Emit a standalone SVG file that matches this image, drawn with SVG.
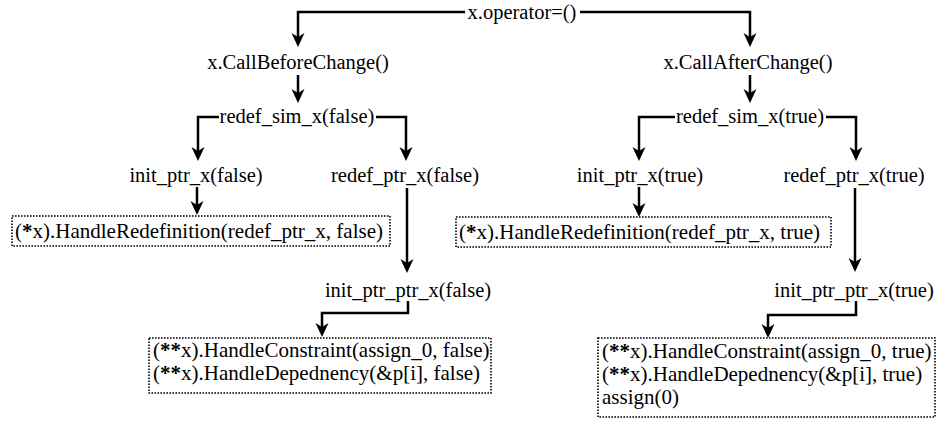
<svg xmlns="http://www.w3.org/2000/svg" width="938" height="421" viewBox="0 0 938 421">
<style>
  text { font-family: "Liberation Serif", "Times New Roman", serif; font-size: 20.5px; fill: #000; }
  .c { text-anchor: middle; }
  .t { font-size: 21px; }
  .b { font-weight: bold; }
  .conn { fill: none; stroke: #000; stroke-width: 2.5; }
  .box { fill: #fff; stroke: #000; stroke-width: 1.6; stroke-dasharray: 1.6 1.4; }
</style>
<defs>
  <marker id="ah" viewBox="-8 -7 17 14" refX="0" refY="0" markerWidth="17" markerHeight="14" markerUnits="userSpaceOnUse" orient="auto">
    <path d="M8,0 L-6,-6.5 L-2,0 L-6,6.5 Z" fill="#000"/>
  </marker>
</defs>
<rect width="938" height="421" fill="#fff"/>
<g id="connectors">
  <path class="conn" d="M465,12 H298 V39" marker-end="url(#ah)"/>
  <path class="conn" d="M580,12 H750 V39" marker-end="url(#ah)"/>
  <path class="conn" d="M298,75 V95" marker-end="url(#ah)"/>
  <path class="conn" d="M750,75 V95" marker-end="url(#ah)"/>
  <path class="conn" d="M219,117 H198 V153" marker-end="url(#ah)"/>
  <path class="conn" d="M376,117 H406 V153" marker-end="url(#ah)"/>
  <path class="conn" d="M675,117 H639 V153" marker-end="url(#ah)"/>
  <path class="conn" d="M826,117 H856 V153" marker-end="url(#ah)"/>
  <path class="conn" d="M197,187 V207" marker-end="url(#ah)"/>
  <path class="conn" d="M639,187 V209" marker-end="url(#ah)"/>
  <path class="conn" d="M407,188 V265" marker-end="url(#ah)"/>
  <path class="conn" d="M855,188 V264" marker-end="url(#ah)"/>
  <path class="conn" d="M408,301 V313 H322 V329" marker-end="url(#ah)"/>
  <path class="conn" d="M856,301 V315 H768 V330" marker-end="url(#ah)"/>
</g>
<g id="n-operator"><text class="c" x="522" y="19">x.operator=()</text></g>
<g id="n-before"><text class="c" x="298" y="69">x.CallBeforeChange()</text></g>
<g id="n-after"><text class="c" x="748" y="69">x.CallAfterChange()</text></g>
<g id="n-sim-false"><text class="c" x="297" y="123">redef_sim_x(false)</text></g>
<g id="n-sim-true"><text class="c" x="750" y="123">redef_sim_x(true)</text></g>
<g id="n-init-false"><text class="c" x="196" y="182">init_ptr_x(false)</text></g>
<g id="n-redef-false"><text class="c" x="405" y="182">redef_ptr_x(false)</text></g>
<g id="n-init-true"><text class="c" x="640" y="182">init_ptr_x(true)</text></g>
<g id="n-redef-true"><text class="c" x="854" y="182">redef_ptr_x(true)</text></g>
<g id="n-hr-false">
  <rect class="box" x="12" y="216" width="378" height="30"/>
  <text class="t" x="15" y="238">(<tspan class="b">*</tspan>x).HandleRedefinition(redef_ptr_x, false)</text>
</g>
<g id="n-hr-true">
  <rect class="box" x="456" y="217" width="375" height="30"/>
  <text class="t" x="459" y="239">(<tspan class="b">*</tspan>x).HandleRedefinition(redef_ptr_x, true)</text>
</g>
<g id="n-ipp-false"><text class="c" x="408" y="297">init_ptr_ptr_x(false)</text></g>
<g id="n-ipp-true"><text class="c" x="854" y="297">init_ptr_ptr_x(true)</text></g>
<g id="n-hc-false">
  <rect class="box" x="149" y="338" width="342" height="55"/>
  <text class="t" x="153" y="357">(<tspan class="b">**</tspan>x).HandleConstraint(assign_0, false)</text>
  <text class="t" x="153" y="380">(<tspan class="b">**</tspan>x).HandleDepednency(&amp;p[i], false)</text>
</g>
<g id="n-hc-true">
  <rect class="box" x="598" y="338" width="337" height="79"/>
  <text class="t" x="602" y="358">(<tspan class="b">**</tspan>x).HandleConstraint(assign_0, true)</text>
  <text class="t" x="602" y="381">(<tspan class="b">**</tspan>x).HandleDepednency(&amp;p[i], true)</text>
  <text class="t" x="602" y="404">assign(0)</text>
</g>
</svg>
